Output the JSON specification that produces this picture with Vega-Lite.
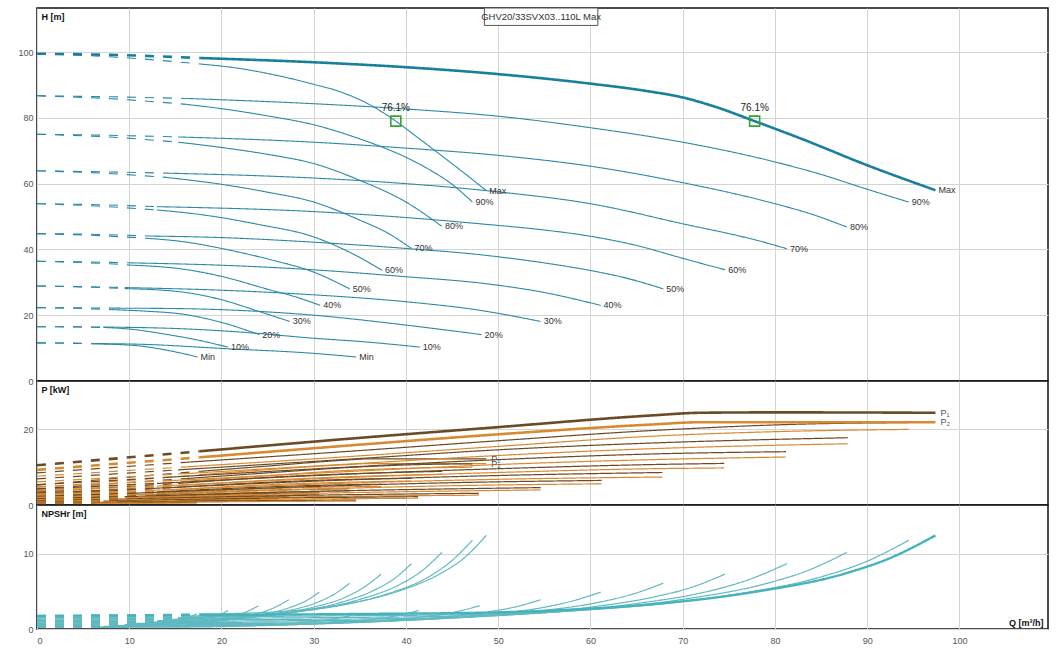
{
  "$schema": "https://vega.github.io/schema/vega-lite/v6.json",
  "description": "Pump curves GHV20/33SVX03..110L Max: head, power and NPSHr against flow, per speed.",
  "padding": {"left": 17, "top": 6, "right": 10, "bottom": 0},
  "spacing": 0,
  "bounds": "flush",
  "config": {
    "font": "Liberation Sans",
    "view": {"stroke": "#111", "strokeWidth": 1.5},
    "axis": {
      "gridColor": "#d4d4d4", "gridWidth": 1, "domain": false, "ticks": false,
      "labelFontSize": 9, "labelColor": "#555", "labelPadding": 4,
      "titleFontSize": 9, "titleFontWeight": "bold", "titleColor": "#111"
    }
  },
  "resolve": {"scale": {"color": "independent", "strokeDash": "independent"}},
  "datasets": {
    "h": [
      {"s":"Max","f":"par","p":"d","q":0,"v":99.5},{"s":"Max","f":"par","p":"d","q":8.8,"v":99.1},{"s":"Max","f":"par","p":"d","q":17.6,"v":98.2},
      {"s":"Max","f":"par","p":"s","q":17.6,"v":98.2},{"s":"Max","f":"par","p":"s","q":30,"v":96.9},{"s":"Max","f":"par","p":"s","q":40,"v":95.4},{"s":"Max","f":"par","p":"s","q":50,"v":93.3},{"s":"Max","f":"par","p":"s","q":60,"v":90.4},{"s":"Max","f":"par","p":"s","q":66,"v":88.2},{"s":"Max","f":"par","p":"s","q":70,"v":86.2},{"s":"Max","f":"par","p":"s","q":73.6,"v":83.3},{"s":"Max","f":"par","p":"s","q":77.8,"v":79.0},{"s":"Max","f":"par","p":"s","q":83,"v":73.5},{"s":"Max","f":"par","p":"s","q":90,"v":65.6},{"s":"Max","f":"par","p":"s","q":97.4,"v":58.0},
      {"s":"Max","f":"one","p":"d","q":0,"v":99.5},{"s":"Max","f":"one","p":"d","q":9,"v":98.4},{"s":"Max","f":"one","p":"d","q":17.6,"v":96.4},
      {"s":"Max","f":"one","p":"s","q":17.6,"v":96.4},{"s":"Max","f":"one","p":"s","q":22,"v":95.0},{"s":"Max","f":"one","p":"s","q":26,"v":92.9},{"s":"Max","f":"one","p":"s","q":30,"v":90.2},{"s":"Max","f":"one","p":"s","q":33,"v":87.8},{"s":"Max","f":"one","p":"s","q":36,"v":84.1},{"s":"Max","f":"one","p":"s","q":38.9,"v":79.0},{"s":"Max","f":"one","p":"s","q":41,"v":74.6},{"s":"Max","f":"one","p":"s","q":44,"v":68.2},{"s":"Max","f":"one","p":"s","q":46.5,"v":62.8},{"s":"Max","f":"one","p":"s","q":48.7,"v":57.9},

      {"s":"90%","f":"par","p":"d","q":0,"v":86.7},{"s":"90%","f":"par","p":"d","q":8.1,"v":86.4},{"s":"90%","f":"par","p":"d","q":16.2,"v":85.9},
      {"s":"90%","f":"par","p":"s","q":16.2,"v":85.9},{"s":"90%","f":"par","p":"s","q":30,"v":84.3},{"s":"90%","f":"par","p":"s","q":40,"v":82.7},{"s":"90%","f":"par","p":"s","q":50,"v":80.5},{"s":"90%","f":"par","p":"s","q":60,"v":77.0},{"s":"90%","f":"par","p":"s","q":70,"v":72.6},{"s":"90%","f":"par","p":"s","q":80,"v":66.6},{"s":"90%","f":"par","p":"s","q":85,"v":62.8},{"s":"90%","f":"par","p":"s","q":90,"v":58.3},{"s":"90%","f":"par","p":"s","q":94.5,"v":54.4},
      {"s":"90%","f":"one","p":"d","q":0,"v":86.7},{"s":"90%","f":"one","p":"d","q":8.1,"v":85.8},{"s":"90%","f":"one","p":"d","q":16.2,"v":84.1},
      {"s":"90%","f":"one","p":"s","q":16.2,"v":84.1},{"s":"90%","f":"one","p":"s","q":20,"v":82.8},{"s":"90%","f":"one","p":"s","q":25,"v":80.6},{"s":"90%","f":"one","p":"s","q":30,"v":77.9},{"s":"90%","f":"one","p":"s","q":35,"v":73.6},{"s":"90%","f":"one","p":"s","q":40,"v":68.0},{"s":"90%","f":"one","p":"s","q":43,"v":63.5},{"s":"90%","f":"one","p":"s","q":45,"v":59.8},{"s":"90%","f":"one","p":"s","q":47.2,"v":54.4},

      {"s":"80%","f":"par","p":"d","q":0,"v":75.0},{"s":"80%","f":"par","p":"d","q":7.7,"v":74.7},{"s":"80%","f":"par","p":"d","q":15.3,"v":74.2},
      {"s":"80%","f":"par","p":"s","q":15.3,"v":74.2},{"s":"80%","f":"par","p":"s","q":30,"v":72.6},{"s":"80%","f":"par","p":"s","q":40,"v":70.8},{"s":"80%","f":"par","p":"s","q":50,"v":68.6},{"s":"80%","f":"par","p":"s","q":60,"v":65.3},{"s":"80%","f":"par","p":"s","q":70,"v":60.3},{"s":"80%","f":"par","p":"s","q":80,"v":53.9},{"s":"80%","f":"par","p":"s","q":84,"v":50.7},{"s":"80%","f":"par","p":"s","q":87.8,"v":46.8},
      {"s":"80%","f":"one","p":"d","q":0,"v":75.0},{"s":"80%","f":"one","p":"d","q":7.7,"v":74.2},{"s":"80%","f":"one","p":"d","q":15.3,"v":72.6},
      {"s":"80%","f":"one","p":"s","q":15.3,"v":72.6},{"s":"80%","f":"one","p":"s","q":20,"v":71.0},{"s":"80%","f":"one","p":"s","q":25,"v":68.9},{"s":"80%","f":"one","p":"s","q":30,"v":66.1},{"s":"80%","f":"one","p":"s","q":35,"v":61.0},{"s":"80%","f":"one","p":"s","q":40,"v":54.4},{"s":"80%","f":"one","p":"s","q":43.9,"v":47.0},

      {"s":"70%","f":"par","p":"d","q":0,"v":63.9},{"s":"70%","f":"par","p":"d","q":7,"v":63.6},{"s":"70%","f":"par","p":"d","q":14,"v":63.2},
      {"s":"70%","f":"par","p":"s","q":14,"v":63.2},{"s":"70%","f":"par","p":"s","q":30,"v":61.7},{"s":"70%","f":"par","p":"s","q":40,"v":60.0},{"s":"70%","f":"par","p":"s","q":50,"v":57.5},{"s":"70%","f":"par","p":"s","q":60,"v":53.9},{"s":"70%","f":"par","p":"s","q":70,"v":47.8},{"s":"70%","f":"par","p":"s","q":78,"v":42.8},{"s":"70%","f":"par","p":"s","q":81.3,"v":40.2},
      {"s":"70%","f":"one","p":"d","q":0,"v":63.9},{"s":"70%","f":"one","p":"d","q":7,"v":63.2},{"s":"70%","f":"one","p":"d","q":14,"v":61.9},
      {"s":"70%","f":"one","p":"s","q":14,"v":61.9},{"s":"70%","f":"one","p":"s","q":20,"v":59.8},{"s":"70%","f":"one","p":"s","q":25,"v":57.4},{"s":"70%","f":"one","p":"s","q":30,"v":54.4},{"s":"70%","f":"one","p":"s","q":35,"v":48.9},{"s":"70%","f":"one","p":"s","q":38,"v":45.0},{"s":"70%","f":"one","p":"s","q":40.6,"v":40.3},

      {"s":"60%","f":"par","p":"d","q":0,"v":53.9},{"s":"60%","f":"par","p":"d","q":6.5,"v":53.6},{"s":"60%","f":"par","p":"d","q":13,"v":53.0},
      {"s":"60%","f":"par","p":"s","q":13,"v":53.0},{"s":"60%","f":"par","p":"s","q":30,"v":51.5},{"s":"60%","f":"par","p":"s","q":40,"v":49.7},{"s":"60%","f":"par","p":"s","q":48,"v":47.8},{"s":"60%","f":"par","p":"s","q":55,"v":45.9},{"s":"60%","f":"par","p":"s","q":60,"v":44.0},{"s":"60%","f":"par","p":"s","q":65,"v":41.2},{"s":"60%","f":"par","p":"s","q":70,"v":37.3},{"s":"60%","f":"par","p":"s","q":74.6,"v":33.8},
      {"s":"60%","f":"one","p":"d","q":0,"v":53.9},{"s":"60%","f":"one","p":"d","q":6.5,"v":53.2},{"s":"60%","f":"one","p":"d","q":13,"v":52.0},
      {"s":"60%","f":"one","p":"s","q":13,"v":52.0},{"s":"60%","f":"one","p":"s","q":18,"v":50.5},{"s":"60%","f":"one","p":"s","q":24,"v":47.6},{"s":"60%","f":"one","p":"s","q":30,"v":43.8},{"s":"60%","f":"one","p":"s","q":34,"v":39.0},{"s":"60%","f":"one","p":"s","q":37.4,"v":33.7},

      {"s":"50%","f":"par","p":"d","q":0,"v":44.8},{"s":"50%","f":"par","p":"d","q":5.9,"v":44.6},{"s":"50%","f":"par","p":"d","q":11.8,"v":44.1},
      {"s":"50%","f":"par","p":"s","q":11.8,"v":44.1},{"s":"50%","f":"par","p":"s","q":20,"v":43.6},{"s":"50%","f":"par","p":"s","q":30,"v":42.2},{"s":"50%","f":"par","p":"s","q":40,"v":40.3},{"s":"50%","f":"par","p":"s","q":48,"v":38.4},{"s":"50%","f":"par","p":"s","q":55,"v":35.9},{"s":"50%","f":"par","p":"s","q":60,"v":33.6},{"s":"50%","f":"par","p":"s","q":64,"v":31.2},{"s":"50%","f":"par","p":"s","q":67.9,"v":28.0},
      {"s":"50%","f":"one","p":"d","q":0,"v":44.8},{"s":"50%","f":"one","p":"d","q":5.9,"v":44.3},{"s":"50%","f":"one","p":"d","q":11.8,"v":43.4},
      {"s":"50%","f":"one","p":"s","q":11.8,"v":43.4},{"s":"50%","f":"one","p":"s","q":16,"v":42.3},{"s":"50%","f":"one","p":"s","q":20,"v":40.3},{"s":"50%","f":"one","p":"s","q":25,"v":37.1},{"s":"50%","f":"one","p":"s","q":30,"v":33.1},{"s":"50%","f":"one","p":"s","q":33.9,"v":28.0},

      {"s":"40%","f":"par","p":"d","q":0,"v":36.4},{"s":"40%","f":"par","p":"d","q":5.2,"v":36.2},{"s":"40%","f":"par","p":"d","q":10.4,"v":35.9},
      {"s":"40%","f":"par","p":"s","q":10.4,"v":35.9},{"s":"40%","f":"par","p":"s","q":20,"v":35.2},{"s":"40%","f":"par","p":"s","q":30,"v":33.8},{"s":"40%","f":"par","p":"s","q":40,"v":31.7},{"s":"40%","f":"par","p":"s","q":48,"v":29.8},{"s":"40%","f":"par","p":"s","q":55,"v":26.9},{"s":"40%","f":"par","p":"s","q":61.1,"v":23.0},
      {"s":"40%","f":"one","p":"d","q":0,"v":36.4},{"s":"40%","f":"one","p":"d","q":5.2,"v":36.0},{"s":"40%","f":"one","p":"d","q":10.4,"v":35.2},
      {"s":"40%","f":"one","p":"s","q":10.4,"v":35.2},{"s":"40%","f":"one","p":"s","q":15.6,"v":34.1},{"s":"40%","f":"one","p":"s","q":20,"v":31.8},{"s":"40%","f":"one","p":"s","q":25,"v":27.9},{"s":"40%","f":"one","p":"s","q":28,"v":25.6},{"s":"40%","f":"one","p":"s","q":30.7,"v":23.0},

      {"s":"30%","f":"par","p":"d","q":0,"v":28.9},{"s":"30%","f":"par","p":"d","q":4.8,"v":28.7},{"s":"30%","f":"par","p":"d","q":9.5,"v":28.4},
      {"s":"30%","f":"par","p":"s","q":9.5,"v":28.4},{"s":"30%","f":"par","p":"s","q":20,"v":27.6},{"s":"30%","f":"par","p":"s","q":30,"v":26.2},{"s":"30%","f":"par","p":"s","q":40,"v":24.1},{"s":"30%","f":"par","p":"s","q":48,"v":21.5},{"s":"30%","f":"par","p":"s","q":54.6,"v":18.1},
      {"s":"30%","f":"one","p":"d","q":0,"v":28.9},{"s":"30%","f":"one","p":"d","q":4.8,"v":28.6},{"s":"30%","f":"one","p":"d","q":9.5,"v":28.1},
      {"s":"30%","f":"one","p":"s","q":9.5,"v":28.1},{"s":"30%","f":"one","p":"s","q":15.6,"v":27.1},{"s":"30%","f":"one","p":"s","q":20,"v":24.7},{"s":"30%","f":"one","p":"s","q":24,"v":21.2},{"s":"30%","f":"one","p":"s","q":27.4,"v":18.1},

      {"s":"20%","f":"par","p":"d","q":0,"v":22.3},{"s":"20%","f":"par","p":"d","q":4,"v":22.25},{"s":"20%","f":"par","p":"d","q":8.1,"v":22.15},
      {"s":"20%","f":"par","p":"s","q":8.1,"v":22.15},{"s":"20%","f":"par","p":"s","q":15.6,"v":22.0},{"s":"20%","f":"par","p":"s","q":30,"v":20.0},{"s":"20%","f":"par","p":"s","q":40,"v":17.0},{"s":"20%","f":"par","p":"s","q":48.2,"v":14.1},
      {"s":"20%","f":"one","p":"d","q":0,"v":22.3},{"s":"20%","f":"one","p":"d","q":4,"v":22.1},{"s":"20%","f":"one","p":"d","q":8.1,"v":21.7},
      {"s":"20%","f":"one","p":"s","q":8.1,"v":21.7},{"s":"20%","f":"one","p":"s","q":12,"v":21.2},{"s":"20%","f":"one","p":"s","q":15.6,"v":20.4},{"s":"20%","f":"one","p":"s","q":20,"v":17.8},{"s":"20%","f":"one","p":"s","q":24.1,"v":14.1},

      {"s":"10%","f":"par","p":"d","q":0,"v":16.5},{"s":"10%","f":"par","p":"d","q":3.6,"v":16.48},{"s":"10%","f":"par","p":"d","q":7.2,"v":16.4},
      {"s":"10%","f":"par","p":"s","q":7.2,"v":16.4},{"s":"10%","f":"par","p":"s","q":15.6,"v":15.9},{"s":"10%","f":"par","p":"s","q":22,"v":14.9},{"s":"10%","f":"par","p":"s","q":30,"v":13.0},{"s":"10%","f":"par","p":"s","q":36,"v":11.8},{"s":"10%","f":"par","p":"s","q":41.5,"v":10.3},
      {"s":"10%","f":"one","p":"d","q":0,"v":16.5},{"s":"10%","f":"one","p":"d","q":3.6,"v":16.45},{"s":"10%","f":"one","p":"d","q":7.2,"v":16.3},
      {"s":"10%","f":"one","p":"s","q":7.2,"v":16.3},{"s":"10%","f":"one","p":"s","q":10,"v":15.8},{"s":"10%","f":"one","p":"s","q":14,"v":14.2},{"s":"10%","f":"one","p":"s","q":17.5,"v":12.4},{"s":"10%","f":"one","p":"s","q":20.7,"v":10.3},

      {"s":"Min","f":"par","p":"d","q":0,"v":11.6},{"s":"Min","f":"par","p":"d","q":3,"v":11.55},{"s":"Min","f":"par","p":"d","q":6,"v":11.4},
      {"s":"Min","f":"par","p":"s","q":6,"v":11.4},{"s":"Min","f":"par","p":"s","q":12,"v":11.1},{"s":"Min","f":"par","p":"s","q":20,"v":9.9},{"s":"Min","f":"par","p":"s","q":30,"v":8.4},{"s":"Min","f":"par","p":"s","q":34.6,"v":7.3},
      {"s":"Min","f":"one","p":"d","q":0,"v":11.6},{"s":"Min","f":"one","p":"d","q":3,"v":11.5},{"s":"Min","f":"one","p":"d","q":6,"v":11.3},
      {"s":"Min","f":"one","p":"s","q":6,"v":11.3},{"s":"Min","f":"one","p":"s","q":10.6,"v":10.8},{"s":"Min","f":"one","p":"s","q":14.2,"v":9.3},{"s":"Min","f":"one","p":"s","q":17.4,"v":7.3}
    ],
    "bep": [
      {"q": 38.9, "v": 79.0, "eff": "76.1%"},
      {"q": 77.8, "v": 79.0, "eff": "76.1%"}
    ],
    "box": [
      {"label": "GHV20/33SVX03..110L Max"}
    ],
    "p": [
      {"s":"Max","f":"par","m":"P₁","p":"d","q":0,"v":10.5},{"s":"Max","f":"par","m":"P₁","p":"d","q":17.6,"v":14.2},
      {"s":"Max","f":"par","m":"P₁","p":"s","q":17.6,"v":14.2},{"s":"Max","f":"par","m":"P₁","p":"s","q":35.2,"v":17.8},{"s":"Max","f":"par","m":"P₁","p":"s","q":50,"v":20.6},{"s":"Max","f":"par","m":"P₁","p":"s","q":66.7,"v":23.7},{"s":"Max","f":"par","m":"P₁","p":"s","q":72,"v":24.4},{"s":"Max","f":"par","m":"P₁","p":"s","q":80,"v":24.5},{"s":"Max","f":"par","m":"P₁","p":"s","q":97.4,"v":24.4},
      {"s":"Max","f":"par","m":"P₂","p":"d","q":0,"v":9.3},{"s":"Max","f":"par","m":"P₂","p":"d","q":17.6,"v":12.6},
      {"s":"Max","f":"par","m":"P₂","p":"s","q":17.6,"v":12.6},{"s":"Max","f":"par","m":"P₂","p":"s","q":35.2,"v":16.0},{"s":"Max","f":"par","m":"P₂","p":"s","q":50,"v":18.7},{"s":"Max","f":"par","m":"P₂","p":"s","q":66.7,"v":21.3},{"s":"Max","f":"par","m":"P₂","p":"s","q":72,"v":21.9},{"s":"Max","f":"par","m":"P₂","p":"s","q":97.4,"v":21.9},
      {"s":"Max","f":"one","m":"P₁","p":"d","q":0,"v":5.25},{"s":"Max","f":"one","m":"P₁","p":"d","q":8.8,"v":7.1},{"s":"Max","f":"one","m":"P₁","p":"d","q":17.6,"v":8.9},
      {"s":"Max","f":"one","m":"P₁","p":"s","q":17.6,"v":8.9},{"s":"Max","f":"one","m":"P₁","p":"s","q":25,"v":10.3},{"s":"Max","f":"one","m":"P₁","p":"s","q":33.3,"v":11.85},{"s":"Max","f":"one","m":"P₁","p":"s","q":36,"v":12.2},{"s":"Max","f":"one","m":"P₁","p":"s","q":48.7,"v":12.2},
      {"s":"Max","f":"one","m":"P₂","p":"d","q":0,"v":4.65},{"s":"Max","f":"one","m":"P₂","p":"d","q":8.8,"v":6.3},{"s":"Max","f":"one","m":"P₂","p":"d","q":17.6,"v":8.0},
      {"s":"Max","f":"one","m":"P₂","p":"s","q":17.6,"v":8.0},{"s":"Max","f":"one","m":"P₂","p":"s","q":25,"v":9.35},{"s":"Max","f":"one","m":"P₂","p":"s","q":33.3,"v":10.65},{"s":"Max","f":"one","m":"P₂","p":"s","q":36,"v":10.95},{"s":"Max","f":"one","m":"P₂","p":"s","q":48.7,"v":10.95},

      {"s":"90%","f":"par","m":"P₁","p":"d","q":0,"v":8.5},{"s":"90%","f":"par","m":"P₁","p":"d","q":16.2,"v":11.3},
      {"s":"90%","f":"par","m":"P₁","p":"s","q":16.2,"v":11.3},{"s":"90%","f":"par","m":"P₁","p":"s","q":35,"v":14.4},{"s":"90%","f":"par","m":"P₁","p":"s","q":50,"v":17.0},{"s":"90%","f":"par","m":"P₁","p":"s","q":66.7,"v":19.7},{"s":"90%","f":"par","m":"P₁","p":"s","q":83,"v":21.4},{"s":"90%","f":"par","m":"P₁","p":"s","q":94.5,"v":21.8},
      {"s":"90%","f":"par","m":"P₂","p":"d","q":0,"v":7.6},{"s":"90%","f":"par","m":"P₂","p":"d","q":16.2,"v":10.1},
      {"s":"90%","f":"par","m":"P₂","p":"s","q":16.2,"v":10.1},{"s":"90%","f":"par","m":"P₂","p":"s","q":35,"v":13.0},{"s":"90%","f":"par","m":"P₂","p":"s","q":50,"v":15.5},{"s":"90%","f":"par","m":"P₂","p":"s","q":66.7,"v":18.2},{"s":"90%","f":"par","m":"P₂","p":"s","q":80,"v":19.4},{"s":"90%","f":"par","m":"P₂","p":"s","q":94.5,"v":20.0},
      {"s":"90%","f":"one","m":"P₁","p":"d","q":0,"v":4.25},{"s":"90%","f":"one","m":"P₁","p":"d","q":16.2,"v":7.0},
      {"s":"90%","f":"one","m":"P₁","p":"s","q":16.2,"v":7.0},{"s":"90%","f":"one","m":"P₁","p":"s","q":25,"v":8.5},{"s":"90%","f":"one","m":"P₁","p":"s","q":33.3,"v":9.85},{"s":"90%","f":"one","m":"P₁","p":"s","q":41.5,"v":10.7},{"s":"90%","f":"one","m":"P₁","p":"s","q":47.2,"v":10.9},
      {"s":"90%","f":"one","m":"P₂","p":"d","q":0,"v":3.8},{"s":"90%","f":"one","m":"P₂","p":"d","q":16.2,"v":6.3},
      {"s":"90%","f":"one","m":"P₂","p":"s","q":16.2,"v":6.3},{"s":"90%","f":"one","m":"P₂","p":"s","q":25,"v":7.75},{"s":"90%","f":"one","m":"P₂","p":"s","q":33.3,"v":9.1},{"s":"90%","f":"one","m":"P₂","p":"s","q":40,"v":9.7},{"s":"90%","f":"one","m":"P₂","p":"s","q":47.2,"v":10.0},

      {"s":"80%","f":"par","m":"P₁","p":"d","q":0,"v":6.9},{"s":"80%","f":"par","m":"P₁","p":"d","q":15.3,"v":9.3},
      {"s":"80%","f":"par","m":"P₁","p":"s","q":15.3,"v":9.3},{"s":"80%","f":"par","m":"P₁","p":"s","q":35,"v":12.3},{"s":"80%","f":"par","m":"P₁","p":"s","q":50,"v":14.6},{"s":"80%","f":"par","m":"P₁","p":"s","q":66.7,"v":16.4},{"s":"80%","f":"par","m":"P₁","p":"s","q":87.9,"v":17.8},
      {"s":"80%","f":"par","m":"P₂","p":"d","q":0,"v":6.1},{"s":"80%","f":"par","m":"P₂","p":"d","q":15.3,"v":8.2},
      {"s":"80%","f":"par","m":"P₂","p":"s","q":15.3,"v":8.2},{"s":"80%","f":"par","m":"P₂","p":"s","q":35,"v":11.0},{"s":"80%","f":"par","m":"P₂","p":"s","q":50,"v":13.1},{"s":"80%","f":"par","m":"P₂","p":"s","q":66.7,"v":14.9},{"s":"80%","f":"par","m":"P₂","p":"s","q":87.9,"v":16.2},
      {"s":"80%","f":"one","m":"P₁","p":"d","q":0,"v":3.45},{"s":"80%","f":"one","m":"P₁","p":"d","q":15.3,"v":5.7},
      {"s":"80%","f":"one","m":"P₁","p":"s","q":15.3,"v":5.7},{"s":"80%","f":"one","m":"P₁","p":"s","q":25,"v":7.3},{"s":"80%","f":"one","m":"P₁","p":"s","q":33.3,"v":8.2},{"s":"80%","f":"one","m":"P₁","p":"s","q":43.9,"v":8.9},
      {"s":"80%","f":"one","m":"P₂","p":"d","q":0,"v":3.05},{"s":"80%","f":"one","m":"P₂","p":"d","q":15.3,"v":5.1},
      {"s":"80%","f":"one","m":"P₂","p":"s","q":15.3,"v":5.1},{"s":"80%","f":"one","m":"P₂","p":"s","q":25,"v":6.55},{"s":"80%","f":"one","m":"P₂","p":"s","q":33.3,"v":7.45},{"s":"80%","f":"one","m":"P₂","p":"s","q":43.9,"v":8.1},

      {"s":"70%","f":"par","m":"P₁","p":"d","q":0,"v":5.4},{"s":"70%","f":"par","m":"P₁","p":"d","q":14,"v":7.3},
      {"s":"70%","f":"par","m":"P₁","p":"s","q":14,"v":7.3},{"s":"70%","f":"par","m":"P₁","p":"s","q":35,"v":10.2},{"s":"70%","f":"par","m":"P₁","p":"s","q":50,"v":12.0},{"s":"70%","f":"par","m":"P₁","p":"s","q":66.7,"v":13.5},{"s":"70%","f":"par","m":"P₁","p":"s","q":81.2,"v":14.1},
      {"s":"70%","f":"par","m":"P₂","p":"d","q":0,"v":4.8},{"s":"70%","f":"par","m":"P₂","p":"d","q":14,"v":6.4},
      {"s":"70%","f":"par","m":"P₂","p":"s","q":14,"v":6.4},{"s":"70%","f":"par","m":"P₂","p":"s","q":35,"v":9.0},{"s":"70%","f":"par","m":"P₂","p":"s","q":50,"v":10.7},{"s":"70%","f":"par","m":"P₂","p":"s","q":66.7,"v":12.0},{"s":"70%","f":"par","m":"P₂","p":"s","q":81.2,"v":12.7},
      {"s":"70%","f":"one","m":"P₁","p":"d","q":0,"v":2.7},{"s":"70%","f":"one","m":"P₁","p":"d","q":14,"v":4.5},
      {"s":"70%","f":"one","m":"P₁","p":"s","q":14,"v":4.5},{"s":"70%","f":"one","m":"P₁","p":"s","q":25,"v":6.0},{"s":"70%","f":"one","m":"P₁","p":"s","q":33.3,"v":6.75},{"s":"70%","f":"one","m":"P₁","p":"s","q":40.6,"v":7.05},
      {"s":"70%","f":"one","m":"P₂","p":"d","q":0,"v":2.4},{"s":"70%","f":"one","m":"P₂","p":"d","q":14,"v":3.95},
      {"s":"70%","f":"one","m":"P₂","p":"s","q":14,"v":3.95},{"s":"70%","f":"one","m":"P₂","p":"s","q":25,"v":5.35},{"s":"70%","f":"one","m":"P₂","p":"s","q":33.3,"v":6.0},{"s":"70%","f":"one","m":"P₂","p":"s","q":40.6,"v":6.35},

      {"s":"60%","f":"par","m":"P₁","p":"d","q":0,"v":4.2},{"s":"60%","f":"par","m":"P₁","p":"d","q":13,"v":5.7},
      {"s":"60%","f":"par","m":"P₁","p":"s","q":13,"v":5.7},{"s":"60%","f":"par","m":"P₁","p":"s","q":35,"v":8.3},{"s":"60%","f":"par","m":"P₁","p":"s","q":50,"v":9.6},{"s":"60%","f":"par","m":"P₁","p":"s","q":66.7,"v":10.7},{"s":"60%","f":"par","m":"P₁","p":"s","q":74.5,"v":11.0},
      {"s":"60%","f":"par","m":"P₂","p":"d","q":0,"v":3.7},{"s":"60%","f":"par","m":"P₂","p":"d","q":13,"v":5.0},
      {"s":"60%","f":"par","m":"P₂","p":"s","q":13,"v":5.0},{"s":"60%","f":"par","m":"P₂","p":"s","q":35,"v":7.4},{"s":"60%","f":"par","m":"P₂","p":"s","q":50,"v":8.6},{"s":"60%","f":"par","m":"P₂","p":"s","q":66.7,"v":9.6},{"s":"60%","f":"par","m":"P₂","p":"s","q":74.5,"v":9.8},
      {"s":"60%","f":"one","m":"P₁","p":"d","q":0,"v":2.1},{"s":"60%","f":"one","m":"P₁","p":"d","q":13,"v":3.45},
      {"s":"60%","f":"one","m":"P₁","p":"s","q":13,"v":3.45},{"s":"60%","f":"one","m":"P₁","p":"s","q":25,"v":4.8},{"s":"60%","f":"one","m":"P₁","p":"s","q":33.3,"v":5.35},{"s":"60%","f":"one","m":"P₁","p":"s","q":37.3,"v":5.5},
      {"s":"60%","f":"one","m":"P₂","p":"d","q":0,"v":1.85},{"s":"60%","f":"one","m":"P₂","p":"d","q":13,"v":3.05},
      {"s":"60%","f":"one","m":"P₂","p":"s","q":13,"v":3.05},{"s":"60%","f":"one","m":"P₂","p":"s","q":25,"v":4.3},{"s":"60%","f":"one","m":"P₂","p":"s","q":33.3,"v":4.8},{"s":"60%","f":"one","m":"P₂","p":"s","q":37.3,"v":4.9},

      {"s":"50%","f":"par","m":"P₁","p":"d","q":0,"v":3.2},{"s":"50%","f":"par","m":"P₁","p":"d","q":11.8,"v":4.3},
      {"s":"50%","f":"par","m":"P₁","p":"s","q":11.8,"v":4.3},{"s":"50%","f":"par","m":"P₁","p":"s","q":30,"v":6.3},{"s":"50%","f":"par","m":"P₁","p":"s","q":50,"v":7.8},{"s":"50%","f":"par","m":"P₁","p":"s","q":67.8,"v":8.6},
      {"s":"50%","f":"par","m":"P₂","p":"d","q":0,"v":2.8},{"s":"50%","f":"par","m":"P₂","p":"d","q":11.8,"v":3.8},
      {"s":"50%","f":"par","m":"P₂","p":"s","q":11.8,"v":3.8},{"s":"50%","f":"par","m":"P₂","p":"s","q":30,"v":5.5},{"s":"50%","f":"par","m":"P₂","p":"s","q":50,"v":6.8},{"s":"50%","f":"par","m":"P₂","p":"s","q":67.8,"v":7.4},
      {"s":"50%","f":"one","m":"P₁","p":"d","q":0,"v":1.6},{"s":"50%","f":"one","m":"P₁","p":"d","q":11.8,"v":2.6},
      {"s":"50%","f":"one","m":"P₁","p":"s","q":11.8,"v":2.6},{"s":"50%","f":"one","m":"P₁","p":"s","q":25,"v":3.9},{"s":"50%","f":"one","m":"P₁","p":"s","q":33.9,"v":4.3},
      {"s":"50%","f":"one","m":"P₂","p":"d","q":0,"v":1.4},{"s":"50%","f":"one","m":"P₂","p":"d","q":11.8,"v":2.3},
      {"s":"50%","f":"one","m":"P₂","p":"s","q":11.8,"v":2.3},{"s":"50%","f":"one","m":"P₂","p":"s","q":25,"v":3.4},{"s":"50%","f":"one","m":"P₂","p":"s","q":33.9,"v":3.7},

      {"s":"40%","f":"par","m":"P₁","p":"d","q":0,"v":2.3},{"s":"40%","f":"par","m":"P₁","p":"d","q":10.4,"v":3.1},
      {"s":"40%","f":"par","m":"P₁","p":"s","q":10.4,"v":3.1},{"s":"40%","f":"par","m":"P₁","p":"s","q":30,"v":4.9},{"s":"40%","f":"par","m":"P₁","p":"s","q":45,"v":5.9},{"s":"40%","f":"par","m":"P₁","p":"s","q":61.2,"v":6.5},
      {"s":"40%","f":"par","m":"P₂","p":"d","q":0,"v":2.0},{"s":"40%","f":"par","m":"P₂","p":"d","q":10.4,"v":2.7},
      {"s":"40%","f":"par","m":"P₂","p":"s","q":10.4,"v":2.7},{"s":"40%","f":"par","m":"P₂","p":"s","q":30,"v":4.2},{"s":"40%","f":"par","m":"P₂","p":"s","q":45,"v":5.1},{"s":"40%","f":"par","m":"P₂","p":"s","q":61.2,"v":5.6},
      {"s":"40%","f":"one","m":"P₁","p":"d","q":0,"v":1.15},{"s":"40%","f":"one","m":"P₁","p":"d","q":10.4,"v":1.9},
      {"s":"40%","f":"one","m":"P₁","p":"s","q":10.4,"v":1.9},{"s":"40%","f":"one","m":"P₁","p":"s","q":22,"v":2.9},{"s":"40%","f":"one","m":"P₁","p":"s","q":30.6,"v":3.25},
      {"s":"40%","f":"one","m":"P₂","p":"d","q":0,"v":1.0},{"s":"40%","f":"one","m":"P₂","p":"d","q":10.4,"v":1.65},
      {"s":"40%","f":"one","m":"P₂","p":"s","q":10.4,"v":1.65},{"s":"40%","f":"one","m":"P₂","p":"s","q":22,"v":2.5},{"s":"40%","f":"one","m":"P₂","p":"s","q":30.6,"v":2.8},

      {"s":"30%","f":"par","m":"P₁","p":"d","q":0,"v":1.6},{"s":"30%","f":"par","m":"P₁","p":"d","q":9.5,"v":2.2},
      {"s":"30%","f":"par","m":"P₁","p":"s","q":9.5,"v":2.2},{"s":"30%","f":"par","m":"P₁","p":"s","q":30,"v":3.6},{"s":"30%","f":"par","m":"P₁","p":"s","q":54.6,"v":4.6},
      {"s":"30%","f":"par","m":"P₂","p":"d","q":0,"v":1.4},{"s":"30%","f":"par","m":"P₂","p":"d","q":9.5,"v":1.9},
      {"s":"30%","f":"par","m":"P₂","p":"s","q":9.5,"v":1.9},{"s":"30%","f":"par","m":"P₂","p":"s","q":30,"v":3.1},{"s":"30%","f":"par","m":"P₂","p":"s","q":54.6,"v":4.0},
      {"s":"30%","f":"one","m":"P₁","p":"d","q":0,"v":0.8},{"s":"30%","f":"one","m":"P₁","p":"d","q":9.5,"v":1.35},
      {"s":"30%","f":"one","m":"P₁","p":"s","q":9.5,"v":1.35},{"s":"30%","f":"one","m":"P₁","p":"s","q":20,"v":2.0},{"s":"30%","f":"one","m":"P₁","p":"s","q":27.3,"v":2.3},
      {"s":"30%","f":"one","m":"P₂","p":"d","q":0,"v":0.7},{"s":"30%","f":"one","m":"P₂","p":"d","q":9.5,"v":1.15},
      {"s":"30%","f":"one","m":"P₂","p":"s","q":9.5,"v":1.15},{"s":"30%","f":"one","m":"P₂","p":"s","q":20,"v":1.75},{"s":"30%","f":"one","m":"P₂","p":"s","q":27.3,"v":2.0},

      {"s":"20%","f":"par","m":"P₁","p":"d","q":0,"v":1.1},{"s":"20%","f":"par","m":"P₁","p":"d","q":8.1,"v":1.5},
      {"s":"20%","f":"par","m":"P₁","p":"s","q":8.1,"v":1.5},{"s":"20%","f":"par","m":"P₁","p":"s","q":25,"v":2.4},{"s":"20%","f":"par","m":"P₁","p":"s","q":47.9,"v":3.1},
      {"s":"20%","f":"par","m":"P₂","p":"d","q":0,"v":0.95},{"s":"20%","f":"par","m":"P₂","p":"d","q":8.1,"v":1.3},
      {"s":"20%","f":"par","m":"P₂","p":"s","q":8.1,"v":1.3},{"s":"20%","f":"par","m":"P₂","p":"s","q":25,"v":2.05},{"s":"20%","f":"par","m":"P₂","p":"s","q":47.9,"v":2.6},
      {"s":"20%","f":"one","m":"P₁","p":"d","q":0,"v":0.55},{"s":"20%","f":"one","m":"P₁","p":"d","q":8.1,"v":0.95},
      {"s":"20%","f":"one","m":"P₁","p":"s","q":8.1,"v":0.95},{"s":"20%","f":"one","m":"P₁","p":"s","q":16,"v":1.3},{"s":"20%","f":"one","m":"P₁","p":"s","q":24,"v":1.55},
      {"s":"20%","f":"one","m":"P₂","p":"d","q":0,"v":0.5},{"s":"20%","f":"one","m":"P₂","p":"d","q":8.1,"v":0.8},
      {"s":"20%","f":"one","m":"P₂","p":"s","q":8.1,"v":0.8},{"s":"20%","f":"one","m":"P₂","p":"s","q":16,"v":1.1},{"s":"20%","f":"one","m":"P₂","p":"s","q":24,"v":1.3},

      {"s":"10%","f":"par","m":"P₁","p":"d","q":0,"v":0.7},{"s":"10%","f":"par","m":"P₁","p":"d","q":7.2,"v":1.0},
      {"s":"10%","f":"par","m":"P₁","p":"s","q":7.2,"v":1.0},{"s":"10%","f":"par","m":"P₁","p":"s","q":22,"v":1.7},{"s":"10%","f":"par","m":"P₁","p":"s","q":41.3,"v":2.2},
      {"s":"10%","f":"par","m":"P₂","p":"d","q":0,"v":0.6},{"s":"10%","f":"par","m":"P₂","p":"d","q":7.2,"v":0.85},
      {"s":"10%","f":"par","m":"P₂","p":"s","q":7.2,"v":0.85},{"s":"10%","f":"par","m":"P₂","p":"s","q":22,"v":1.4},{"s":"10%","f":"par","m":"P₂","p":"s","q":41.3,"v":1.8},
      {"s":"10%","f":"one","m":"P₁","p":"d","q":0,"v":0.35},{"s":"10%","f":"one","m":"P₁","p":"d","q":7.2,"v":0.6},
      {"s":"10%","f":"one","m":"P₁","p":"s","q":7.2,"v":0.6},{"s":"10%","f":"one","m":"P₁","p":"s","q":14,"v":0.9},{"s":"10%","f":"one","m":"P₁","p":"s","q":20.7,"v":1.1},
      {"s":"10%","f":"one","m":"P₂","p":"d","q":0,"v":0.3},{"s":"10%","f":"one","m":"P₂","p":"d","q":7.2,"v":0.5},
      {"s":"10%","f":"one","m":"P₂","p":"s","q":7.2,"v":0.5},{"s":"10%","f":"one","m":"P₂","p":"s","q":14,"v":0.75},{"s":"10%","f":"one","m":"P₂","p":"s","q":20.7,"v":0.9},

      {"s":"Min","f":"par","m":"P₁","p":"d","q":0,"v":0.45},{"s":"Min","f":"par","m":"P₁","p":"d","q":6,"v":0.65},
      {"s":"Min","f":"par","m":"P₁","p":"s","q":6,"v":0.65},{"s":"Min","f":"par","m":"P₁","p":"s","q":20,"v":1.05},{"s":"Min","f":"par","m":"P₁","p":"s","q":34.6,"v":1.3},
      {"s":"Min","f":"par","m":"P₂","p":"d","q":0,"v":0.4},{"s":"Min","f":"par","m":"P₂","p":"d","q":6,"v":0.55},
      {"s":"Min","f":"par","m":"P₂","p":"s","q":6,"v":0.55},{"s":"Min","f":"par","m":"P₂","p":"s","q":20,"v":0.85},{"s":"Min","f":"par","m":"P₂","p":"s","q":34.6,"v":1.05},
      {"s":"Min","f":"one","m":"P₁","p":"d","q":0,"v":0.22},{"s":"Min","f":"one","m":"P₁","p":"d","q":6,"v":0.4},
      {"s":"Min","f":"one","m":"P₁","p":"s","q":6,"v":0.4},{"s":"Min","f":"one","m":"P₁","p":"s","q":12,"v":0.55},{"s":"Min","f":"one","m":"P₁","p":"s","q":17.3,"v":0.65},
      {"s":"Min","f":"one","m":"P₂","p":"d","q":0,"v":0.2},{"s":"Min","f":"one","m":"P₂","p":"d","q":6,"v":0.33},
      {"s":"Min","f":"one","m":"P₂","p":"s","q":6,"v":0.33},{"s":"Min","f":"one","m":"P₂","p":"s","q":12,"v":0.46},{"s":"Min","f":"one","m":"P₂","p":"s","q":17.3,"v":0.55}
    ],
    "n": [
      {"s":"Max","f":"par","p":"d","q":0,"v":1.75},{"s":"Max","f":"par","p":"d","q":17.6,"v":1.86},
      {"s":"Max","f":"par","p":"s","q":17.6,"v":1.86},{"s":"Max","f":"par","p":"s","q":35.1,"v":2.0},{"s":"Max","f":"par","p":"s","q":48.7,"v":2.18},{"s":"Max","f":"par","p":"s","q":58.4,"v":2.61},{"s":"Max","f":"par","p":"s","q":68.2,"v":3.46},{"s":"Max","f":"par","p":"s","q":77.9,"v":4.96},{"s":"Max","f":"par","p":"s","q":87.7,"v":7.42},{"s":"Max","f":"par","p":"s","q":92.5,"v":9.45},{"s":"Max","f":"par","p":"s","q":97.4,"v":12.45},
      {"s":"Max","f":"one","p":"d","q":0,"v":1.75},{"s":"Max","f":"one","p":"d","q":8.8,"v":1.86},{"s":"Max","f":"one","p":"d","q":17.6,"v":2.0},
      {"s":"Max","f":"one","p":"s","q":17.6,"v":2.0},{"s":"Max","f":"one","p":"s","q":24.4,"v":2.18},{"s":"Max","f":"one","p":"s","q":29.2,"v":2.61},{"s":"Max","f":"one","p":"s","q":34.1,"v":3.46},{"s":"Max","f":"one","p":"s","q":39,"v":4.96},{"s":"Max","f":"one","p":"s","q":43.8,"v":7.42},{"s":"Max","f":"one","p":"s","q":46.3,"v":9.45},{"s":"Max","f":"one","p":"s","q":48.7,"v":12.45},

      {"s":"90%","f":"par","p":"d","q":0,"v":1.52},{"s":"90%","f":"par","p":"d","q":16.2,"v":1.62},
      {"s":"90%","f":"par","p":"s","q":16.2,"v":1.62},{"s":"90%","f":"par","p":"s","q":34,"v":1.76},{"s":"90%","f":"par","p":"s","q":47.3,"v":1.93},{"s":"90%","f":"par","p":"s","q":56.7,"v":2.34},{"s":"90%","f":"par","p":"s","q":66.2,"v":3.16},{"s":"90%","f":"par","p":"s","q":75.6,"v":4.6},{"s":"90%","f":"par","p":"s","q":85.1,"v":6.97},{"s":"90%","f":"par","p":"s","q":89.8,"v":8.92},{"s":"90%","f":"par","p":"s","q":94.5,"v":11.8},
      {"s":"90%","f":"one","p":"d","q":0,"v":1.52},{"s":"90%","f":"one","p":"d","q":16.2,"v":1.75},
      {"s":"90%","f":"one","p":"s","q":16.2,"v":1.75},{"s":"90%","f":"one","p":"s","q":23.6,"v":1.93},{"s":"90%","f":"one","p":"s","q":28.3,"v":2.34},{"s":"90%","f":"one","p":"s","q":33,"v":3.16},{"s":"90%","f":"one","p":"s","q":37.8,"v":4.6},{"s":"90%","f":"one","p":"s","q":42.5,"v":6.97},{"s":"90%","f":"one","p":"s","q":44.8,"v":8.92},{"s":"90%","f":"one","p":"s","q":47.2,"v":11.8},

      {"s":"80%","f":"par","p":"d","q":0,"v":1.32},{"s":"80%","f":"par","p":"d","q":15.3,"v":1.41},
      {"s":"80%","f":"par","p":"s","q":15.3,"v":1.41},{"s":"80%","f":"par","p":"s","q":31.6,"v":1.52},{"s":"80%","f":"par","p":"s","q":43.9,"v":1.68},{"s":"80%","f":"par","p":"s","q":52.7,"v":2.03},{"s":"80%","f":"par","p":"s","q":61.5,"v":2.74},{"s":"80%","f":"par","p":"s","q":70.2,"v":3.98},{"s":"80%","f":"par","p":"s","q":79,"v":6.03},{"s":"80%","f":"par","p":"s","q":83.4,"v":7.71},{"s":"80%","f":"par","p":"s","q":87.8,"v":10.2},
      {"s":"80%","f":"one","p":"d","q":0,"v":1.32},{"s":"80%","f":"one","p":"d","q":15.3,"v":1.52},
      {"s":"80%","f":"one","p":"s","q":15.3,"v":1.52},{"s":"80%","f":"one","p":"s","q":22,"v":1.68},{"s":"80%","f":"one","p":"s","q":26.3,"v":2.03},{"s":"80%","f":"one","p":"s","q":30.7,"v":2.74},{"s":"80%","f":"one","p":"s","q":35.1,"v":3.98},{"s":"80%","f":"one","p":"s","q":39.5,"v":6.03},{"s":"80%","f":"one","p":"s","q":41.7,"v":7.71},{"s":"80%","f":"one","p":"s","q":43.9,"v":10.2},

      {"s":"70%","f":"par","p":"d","q":0,"v":1.12},{"s":"70%","f":"par","p":"d","q":14,"v":1.2},
      {"s":"70%","f":"par","p":"s","q":14,"v":1.2},{"s":"70%","f":"par","p":"s","q":29.3,"v":1.29},{"s":"70%","f":"par","p":"s","q":40.7,"v":1.42},{"s":"70%","f":"par","p":"s","q":48.8,"v":1.73},{"s":"70%","f":"par","p":"s","q":56.9,"v":2.33},{"s":"70%","f":"par","p":"s","q":65,"v":3.39},{"s":"70%","f":"par","p":"s","q":73.2,"v":5.14},{"s":"70%","f":"par","p":"s","q":77.2,"v":6.58},{"s":"70%","f":"par","p":"s","q":81.3,"v":8.7},
      {"s":"70%","f":"one","p":"d","q":0,"v":1.12},{"s":"70%","f":"one","p":"d","q":14,"v":1.29},
      {"s":"70%","f":"one","p":"s","q":14,"v":1.29},{"s":"70%","f":"one","p":"s","q":20.3,"v":1.42},{"s":"70%","f":"one","p":"s","q":24.4,"v":1.73},{"s":"70%","f":"one","p":"s","q":28.4,"v":2.33},{"s":"70%","f":"one","p":"s","q":32.5,"v":3.39},{"s":"70%","f":"one","p":"s","q":36.5,"v":5.14},{"s":"70%","f":"one","p":"s","q":38.6,"v":6.58},{"s":"70%","f":"one","p":"s","q":40.6,"v":8.7},

      {"s":"60%","f":"par","p":"d","q":0,"v":0.95},{"s":"60%","f":"par","p":"d","q":13,"v":1.01},
      {"s":"60%","f":"par","p":"s","q":13,"v":1.01},{"s":"60%","f":"par","p":"s","q":26.9,"v":1.1},{"s":"60%","f":"par","p":"s","q":37.3,"v":1.2},{"s":"60%","f":"par","p":"s","q":44.8,"v":1.46},{"s":"60%","f":"par","p":"s","q":52.2,"v":1.97},{"s":"60%","f":"par","p":"s","q":59.7,"v":2.86},{"s":"60%","f":"par","p":"s","q":67.1,"v":4.32},{"s":"60%","f":"par","p":"s","q":70.9,"v":5.52},{"s":"60%","f":"par","p":"s","q":74.6,"v":7.3},
      {"s":"60%","f":"one","p":"d","q":0,"v":0.95},{"s":"60%","f":"one","p":"d","q":13,"v":1.1},
      {"s":"60%","f":"one","p":"s","q":13,"v":1.1},{"s":"60%","f":"one","p":"s","q":18.7,"v":1.2},{"s":"60%","f":"one","p":"s","q":22.4,"v":1.46},{"s":"60%","f":"one","p":"s","q":26.1,"v":1.97},{"s":"60%","f":"one","p":"s","q":29.8,"v":2.86},{"s":"60%","f":"one","p":"s","q":33.6,"v":4.32},{"s":"60%","f":"one","p":"s","q":35.4,"v":5.52},{"s":"60%","f":"one","p":"s","q":37.3,"v":7.3},

      {"s":"50%","f":"par","p":"d","q":0,"v":0.79},{"s":"50%","f":"par","p":"d","q":11.8,"v":0.84},
      {"s":"50%","f":"par","p":"s","q":11.8,"v":0.84},{"s":"50%","f":"par","p":"s","q":24.4,"v":0.91},{"s":"50%","f":"par","p":"s","q":34,"v":1.0},{"s":"50%","f":"par","p":"s","q":40.7,"v":1.21},{"s":"50%","f":"par","p":"s","q":47.5,"v":1.64},{"s":"50%","f":"par","p":"s","q":54.3,"v":2.38},{"s":"50%","f":"par","p":"s","q":61.1,"v":3.6},{"s":"50%","f":"par","p":"s","q":64.5,"v":4.61},{"s":"50%","f":"par","p":"s","q":67.9,"v":6.1},
      {"s":"50%","f":"one","p":"d","q":0,"v":0.79},{"s":"50%","f":"one","p":"d","q":11.8,"v":0.91},
      {"s":"50%","f":"one","p":"s","q":11.8,"v":0.91},{"s":"50%","f":"one","p":"s","q":17,"v":1.0},{"s":"50%","f":"one","p":"s","q":20.3,"v":1.21},{"s":"50%","f":"one","p":"s","q":23.7,"v":1.64},{"s":"50%","f":"one","p":"s","q":27.1,"v":2.38},{"s":"50%","f":"one","p":"s","q":30.5,"v":3.6},{"s":"50%","f":"one","p":"s","q":32.2,"v":4.61},{"s":"50%","f":"one","p":"s","q":33.9,"v":6.1},

      {"s":"40%","f":"par","p":"d","q":0,"v":0.64},{"s":"40%","f":"par","p":"d","q":10.4,"v":0.68},
      {"s":"40%","f":"par","p":"s","q":10.4,"v":0.68},{"s":"40%","f":"par","p":"s","q":22,"v":0.74},{"s":"40%","f":"par","p":"s","q":30.6,"v":0.81},{"s":"40%","f":"par","p":"s","q":36.7,"v":0.98},{"s":"40%","f":"par","p":"s","q":42.8,"v":1.32},{"s":"40%","f":"par","p":"s","q":48.9,"v":1.92},{"s":"40%","f":"par","p":"s","q":55,"v":2.9},{"s":"40%","f":"par","p":"s","q":58,"v":3.71},{"s":"40%","f":"par","p":"s","q":61.1,"v":4.9},
      {"s":"40%","f":"one","p":"d","q":0,"v":0.64},{"s":"40%","f":"one","p":"d","q":10.4,"v":0.74},
      {"s":"40%","f":"one","p":"s","q":10.4,"v":0.74},{"s":"40%","f":"one","p":"s","q":15.3,"v":0.81},{"s":"40%","f":"one","p":"s","q":18.4,"v":0.98},{"s":"40%","f":"one","p":"s","q":21.4,"v":1.32},{"s":"40%","f":"one","p":"s","q":24.5,"v":1.92},{"s":"40%","f":"one","p":"s","q":27.5,"v":2.9},{"s":"40%","f":"one","p":"s","q":29.1,"v":3.71},{"s":"40%","f":"one","p":"s","q":30.6,"v":4.9},

      {"s":"30%","f":"par","p":"d","q":0,"v":0.51},{"s":"30%","f":"par","p":"d","q":9.5,"v":0.54},
      {"s":"30%","f":"par","p":"s","q":9.5,"v":0.54},{"s":"30%","f":"par","p":"s","q":19.7,"v":0.59},{"s":"30%","f":"par","p":"s","q":27.3,"v":0.65},{"s":"30%","f":"par","p":"s","q":32.8,"v":0.78},{"s":"30%","f":"par","p":"s","q":38.2,"v":1.05},{"s":"30%","f":"par","p":"s","q":43.7,"v":1.53},{"s":"30%","f":"par","p":"s","q":49.1,"v":2.31},{"s":"30%","f":"par","p":"s","q":51.9,"v":2.95},{"s":"30%","f":"par","p":"s","q":54.6,"v":3.9},
      {"s":"30%","f":"one","p":"d","q":0,"v":0.51},{"s":"30%","f":"one","p":"d","q":9.5,"v":0.59},
      {"s":"30%","f":"one","p":"s","q":9.5,"v":0.59},{"s":"30%","f":"one","p":"s","q":13.7,"v":0.65},{"s":"30%","f":"one","p":"s","q":16.4,"v":0.78},{"s":"30%","f":"one","p":"s","q":19.1,"v":1.05},{"s":"30%","f":"one","p":"s","q":21.8,"v":1.53},{"s":"30%","f":"one","p":"s","q":24.6,"v":2.31},{"s":"30%","f":"one","p":"s","q":25.9,"v":2.95},{"s":"30%","f":"one","p":"s","q":27.3,"v":3.9},

      {"s":"20%","f":"par","p":"d","q":0,"v":0.39},{"s":"20%","f":"par","p":"d","q":8.1,"v":0.42},
      {"s":"20%","f":"par","p":"s","q":8.1,"v":0.42},{"s":"20%","f":"par","p":"s","q":17.3,"v":0.45},{"s":"20%","f":"par","p":"s","q":24,"v":0.5},{"s":"20%","f":"par","p":"s","q":28.8,"v":0.61},{"s":"20%","f":"par","p":"s","q":33.6,"v":0.82},{"s":"20%","f":"par","p":"s","q":38.4,"v":1.2},{"s":"20%","f":"par","p":"s","q":43.2,"v":1.83},{"s":"20%","f":"par","p":"s","q":45.6,"v":2.34},{"s":"20%","f":"par","p":"s","q":48,"v":3.1},
      {"s":"20%","f":"one","p":"d","q":0,"v":0.39},{"s":"20%","f":"one","p":"d","q":8.1,"v":0.45},
      {"s":"20%","f":"one","p":"s","q":8.1,"v":0.45},{"s":"20%","f":"one","p":"s","q":12,"v":0.5},{"s":"20%","f":"one","p":"s","q":14.4,"v":0.61},{"s":"20%","f":"one","p":"s","q":16.8,"v":0.82},{"s":"20%","f":"one","p":"s","q":19.2,"v":1.2},{"s":"20%","f":"one","p":"s","q":21.6,"v":1.83},{"s":"20%","f":"one","p":"s","q":22.8,"v":2.34},{"s":"20%","f":"one","p":"s","q":24,"v":3.1},

      {"s":"10%","f":"par","p":"d","q":0,"v":0.29},{"s":"10%","f":"par","p":"d","q":7.2,"v":0.31},
      {"s":"10%","f":"par","p":"s","q":7.2,"v":0.31},{"s":"10%","f":"par","p":"s","q":14.9,"v":0.34},{"s":"10%","f":"par","p":"s","q":20.7,"v":0.38},{"s":"10%","f":"par","p":"s","q":24.8,"v":0.46},{"s":"10%","f":"par","p":"s","q":29,"v":0.64},{"s":"10%","f":"par","p":"s","q":33.1,"v":0.94},{"s":"10%","f":"par","p":"s","q":37.3,"v":1.43},{"s":"10%","f":"par","p":"s","q":39.3,"v":1.85},{"s":"10%","f":"par","p":"s","q":41.4,"v":2.45},
      {"s":"10%","f":"one","p":"d","q":0,"v":0.29},{"s":"10%","f":"one","p":"d","q":7.2,"v":0.34},
      {"s":"10%","f":"one","p":"s","q":7.2,"v":0.34},{"s":"10%","f":"one","p":"s","q":10.4,"v":0.38},{"s":"10%","f":"one","p":"s","q":12.4,"v":0.46},{"s":"10%","f":"one","p":"s","q":14.5,"v":0.64},{"s":"10%","f":"one","p":"s","q":16.6,"v":0.94},{"s":"10%","f":"one","p":"s","q":18.6,"v":1.43},{"s":"10%","f":"one","p":"s","q":19.7,"v":1.85},{"s":"10%","f":"one","p":"s","q":20.7,"v":2.45},

      {"s":"Min","f":"par","p":"d","q":0,"v":0.2},{"s":"Min","f":"par","p":"d","q":6,"v":0.22},
      {"s":"Min","f":"par","p":"s","q":6,"v":0.22},{"s":"Min","f":"par","p":"s","q":12.5,"v":0.24},{"s":"Min","f":"par","p":"s","q":17.3,"v":0.27},{"s":"Min","f":"par","p":"s","q":20.8,"v":0.34},{"s":"Min","f":"par","p":"s","q":24.2,"v":0.49},{"s":"Min","f":"par","p":"s","q":27.7,"v":0.74},{"s":"Min","f":"par","p":"s","q":31.1,"v":1.15},{"s":"Min","f":"par","p":"s","q":32.9,"v":1.5},{"s":"Min","f":"par","p":"s","q":34.6,"v":2.0},
      {"s":"Min","f":"one","p":"d","q":0,"v":0.2},{"s":"Min","f":"one","p":"d","q":6,"v":0.24},
      {"s":"Min","f":"one","p":"s","q":6,"v":0.24},{"s":"Min","f":"one","p":"s","q":8.7,"v":0.27},{"s":"Min","f":"one","p":"s","q":10.4,"v":0.34},{"s":"Min","f":"one","p":"s","q":12.1,"v":0.49},{"s":"Min","f":"one","p":"s","q":13.8,"v":0.74},{"s":"Min","f":"one","p":"s","q":15.6,"v":1.15},{"s":"Min","f":"one","p":"s","q":16.4,"v":1.5},{"s":"Min","f":"one","p":"s","q":17.3,"v":2.0}
    ]
  },
  "vconcat": [
    {
      "width": 1011,
      "height": 373,
      "layer": [
        {
          "data": {"name": "h"},
          "transform": [{"filter": "!(datum.s === 'Max' && datum.f === 'par')"}],
          "mark": {"type": "line", "interpolate": "monotone", "color": "#2b8aa6", "strokeWidth": 1.1},
          "encoding": {
            "x": {"field": "q", "type": "quantitative", "scale": {"domain": [0, 109.6], "nice": false, "zero": false},
                  "axis": {"labels": false, "title": null, "values": [0,10,20,30,40,50,60,70,80,90,100]}},
            "y": {"field": "v", "type": "quantitative", "scale": {"domain": [0, 113.4], "nice": false},
                  "axis": {"values": [0,20,40,60,80,100], "title": "H [m]", "titleAngle": 0, "titleAlign": "left", "titleBaseline": "top", "titleX": 4, "titleY": 4}},
            "detail": [{"field": "s"}, {"field": "f"}],
            "strokeDash": {"field": "p", "type": "nominal", "scale": {"domain": ["s", "d"], "range": [[1, 0], [9, 9]]}, "legend": null}
          }
        },
        {
          "data": {"name": "h"},
          "transform": [{"filter": "datum.s === 'Max' && datum.f === 'par'"}],
          "mark": {"type": "line", "interpolate": "monotone", "color": "#18809c", "strokeWidth": 2.6},
          "encoding": {
            "x": {"field": "q", "type": "quantitative"},
            "y": {"field": "v", "type": "quantitative"},
            "strokeDash": {"field": "p", "type": "nominal", "scale": {"domain": ["s", "d"], "range": [[1, 0], [9, 9]]}, "legend": null}
          }
        },
        {
          "data": {"name": "h"},
          "transform": [
            {"filter": "datum.p === 's'"},
            {"joinaggregate": [{"op": "max", "field": "q", "as": "qm"}], "groupby": ["s", "f"]},
            {"filter": "datum.q === datum.qm"}
          ],
          "mark": {"type": "text", "align": "left", "baseline": "middle", "dx": 3, "fontSize": 9, "color": "#333"},
          "encoding": {
            "x": {"field": "q", "type": "quantitative"},
            "y": {"field": "v", "type": "quantitative"},
            "text": {"field": "s"}
          }
        },
        {
          "data": {"name": "bep"},
          "mark": {"type": "point", "shape": "square", "filled": false, "size": 100, "color": "#33a532", "strokeWidth": 1.6, "opacity": 1},
          "encoding": {
            "x": {"field": "q", "type": "quantitative"},
            "y": {"field": "v", "type": "quantitative"}
          }
        },
        {
          "data": {"name": "bep"},
          "mark": {"type": "text", "dy": -13, "fontSize": 10, "color": "#222"},
          "encoding": {
            "x": {"field": "q", "type": "quantitative"},
            "y": {"field": "v", "type": "quantitative"},
            "text": {"field": "eff"}
          }
        },
        {
          "data": {"name": "box"},
          "mark": {"type": "rect", "fill": "#ffffff", "stroke": "#555555", "strokeWidth": 1},
          "encoding": {
            "x": {"datum": 48.5, "type": "quantitative"},
            "x2": {"datum": 60.8},
            "y": {"datum": 113.4, "type": "quantitative"},
            "y2": {"datum": 108.1}
          }
        },
        {
          "data": {"name": "box"},
          "mark": {"type": "text", "fontSize": 9.5, "color": "#333", "baseline": "middle", "align": "center"},
          "encoding": {
            "x": {"datum": 54.65, "type": "quantitative"},
            "y": {"datum": 110.75, "type": "quantitative"},
            "text": {"field": "label"}
          }
        }
      ]
    },
    {
      "width": 1011,
      "height": 124,
      "data": {"name": "p"},
      "encoding": {
        "x": {"field": "q", "type": "quantitative", "scale": {"domain": [0, 109.6], "nice": false, "zero": false},
              "axis": {"labels": false, "title": null, "values": [0,10,20,30,40,50,60,70,80,90,100]}},
        "y": {"field": "v", "type": "quantitative", "scale": {"domain": [0, 32.8], "nice": false},
              "axis": {"values": [0, 20], "title": "P [kW]", "titleAngle": 0, "titleAlign": "left", "titleBaseline": "top", "titleX": 4, "titleY": 4}},
        "color": {"field": "m", "type": "nominal", "scale": {"domain": ["P₁", "P₂"], "range": ["#6b4a26", "#d98a30"]}, "legend": null}
      },
      "layer": [
        {
          "transform": [{"filter": "!(datum.s === 'Max' && datum.f === 'par')"}],
          "mark": {"type": "line", "interpolate": "monotone", "strokeWidth": 1.2},
          "encoding": {
            "detail": [{"field": "s"}, {"field": "f"}],
            "strokeDash": {"field": "p", "type": "nominal", "scale": {"domain": ["s", "d"], "range": [[1, 0], [9, 9]]}, "legend": null}
          }
        },
        {
          "transform": [{"filter": "datum.s === 'Max' && datum.f === 'par'"}],
          "mark": {"type": "line", "interpolate": "monotone", "strokeWidth": 2.6},
          "encoding": {
            "strokeDash": {"field": "p", "type": "nominal", "scale": {"domain": ["s", "d"], "range": [[1, 0], [9, 9]]}, "legend": null}
          }
        },
        {
          "transform": [
            {"filter": "datum.s === 'Max' && datum.p === 's'"},
            {"joinaggregate": [{"op": "max", "field": "q", "as": "qm"}], "groupby": ["f", "m"]},
            {"filter": "datum.q === datum.qm"}
          ],
          "mark": {"type": "text", "align": "left", "baseline": "middle", "dx": 5, "fontSize": 9, "color": "#555"},
          "encoding": {"text": {"field": "m"}, "color": {"value": "#555"}}
        }
      ]
    },
    {
      "width": 1011,
      "height": 124,
      "data": {"name": "n"},
      "encoding": {
        "x": {"field": "q", "type": "quantitative", "scale": {"domain": [0, 109.6], "nice": false, "zero": false},
              "axis": {"values": [0,10,20,30,40,50,60,70,80,90,100], "labelPadding": 7, "title": "Q [m³/h]", "titleAlign": "right", "titleBaseline": "alphabetic", "titleX": 1006, "titleY": -4}},
        "y": {"field": "v", "type": "quantitative", "scale": {"domain": [0, 16.5], "nice": false},
              "axis": {"values": [0, 10], "title": "NPSHr [m]", "titleAngle": 0, "titleAlign": "left", "titleBaseline": "top", "titleX": 4, "titleY": 4}}
      },
      "layer": [
        {
          "transform": [{"filter": "!(datum.s === 'Max' && datum.f === 'par')"}],
          "mark": {"type": "line", "interpolate": "monotone", "color": "#5fb9c0", "strokeWidth": 1.2},
          "encoding": {
            "detail": [{"field": "s"}, {"field": "f"}],
            "strokeDash": {"field": "p", "type": "nominal", "scale": {"domain": ["s", "d"], "range": [[1, 0], [9, 9]]}, "legend": null}
          }
        },
        {
          "transform": [{"filter": "datum.s === 'Max' && datum.f === 'par'"}],
          "mark": {"type": "line", "interpolate": "monotone", "color": "#46b3bc", "strokeWidth": 2.4},
          "encoding": {
            "strokeDash": {"field": "p", "type": "nominal", "scale": {"domain": ["s", "d"], "range": [[1, 0], [9, 9]]}, "legend": null}
          }
        }
      ]
    }
  ]
}
